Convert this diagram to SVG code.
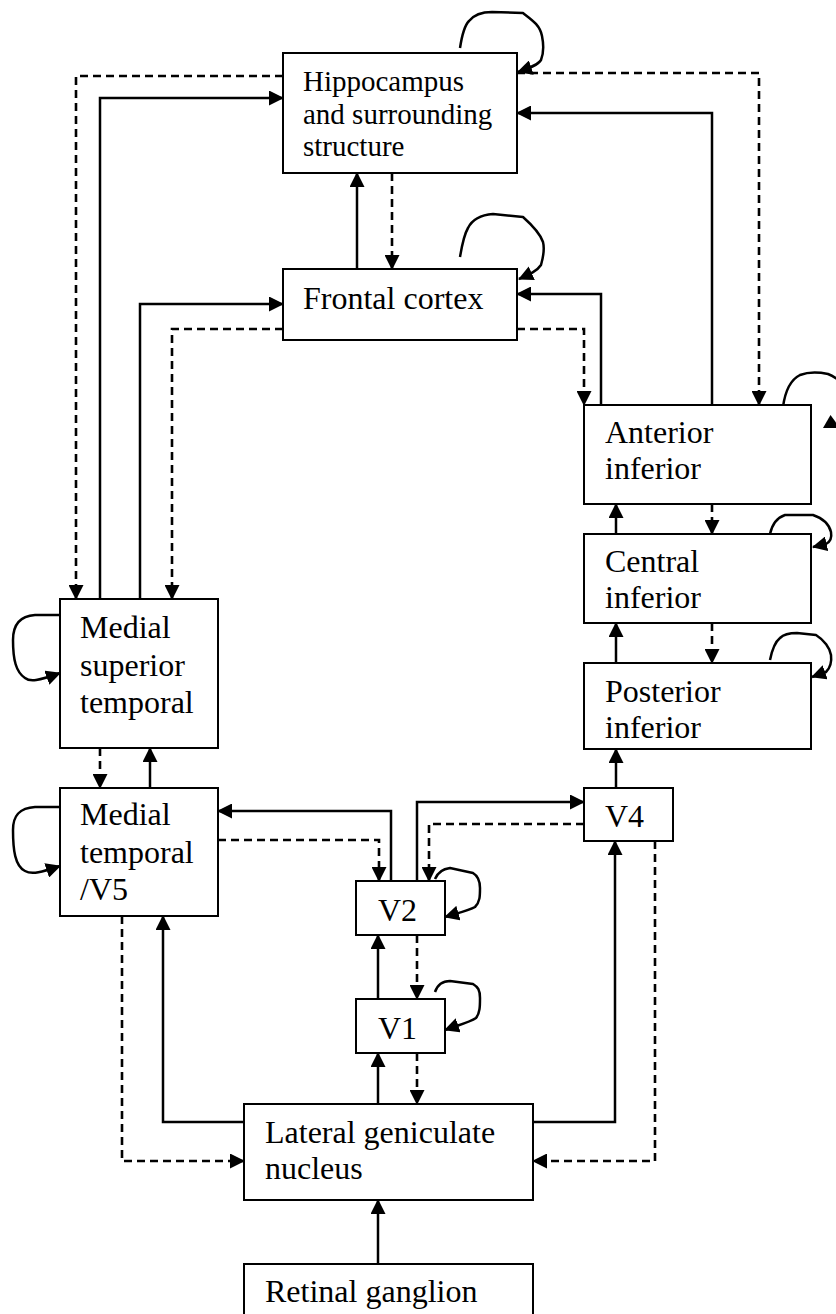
<svg xmlns="http://www.w3.org/2000/svg" width="836" height="1314" viewBox="0 0 836 1314">
<style>
.box{fill:#fff;stroke:#000;stroke-width:2}
.t{font-family:"Liberation Serif","Times New Roman",serif;font-size:32px;fill:#000}
.th{font-family:"Liberation Serif","Times New Roman",serif;font-size:29px;fill:#000}
.s{fill:none;stroke:#000;stroke-width:2.5;marker-end:url(#ah)}
.d{fill:none;stroke:#000;stroke-width:2.6;stroke-dasharray:8 5;marker-end:url(#ah)}
.l{fill:none;stroke:#000;stroke-width:2.5;stroke-linejoin:round;marker-end:url(#ah)}
</style>
<defs>
<marker id="ah" markerUnits="userSpaceOnUse" markerWidth="15" markerHeight="15" refX="14" refY="7.5" orient="auto">
<path d="M0,0 L15,7.5 L0,15 Z" fill="#000" stroke="none"/>
</marker>
</defs>
<rect width="836" height="1314" fill="#fff"/>
<g id="connectors">
<path class="d" d="M283,76 L76,76 L76,599"/>
<path class="s" d="M100,599 L100,98 L283,98"/>
<path class="s" d="M140,599 L140,304 L283,304"/>
<path class="d" d="M283,329 L172,329 L172,599"/>
<path class="d" d="M517,73 L759,73 L759,405"/>
<path class="s" d="M712,405 L712,113 L517,113"/>
<path class="s" d="M601,405 L601,294 L517,294"/>
<path class="d" d="M517,329 L584,329 L584,405"/>
<path class="s" d="M357,269 L357,173"/>
<path class="d" d="M392,173 L392,269"/>
<path class="s" d="M616,534 L616,504"/>
<path class="d" d="M712,504 L712,534"/>
<path class="s" d="M616,663 L616,623"/>
<path class="d" d="M712,623 L712,663"/>
<path class="s" d="M616,788 L616,749"/>
<path class="d" d="M100,748 L100,788"/>
<path class="s" d="M150,788 L150,748"/>
<path class="s" d="M391,881 L391,811 L218,811"/>
<path class="d" d="M218,840 L379,840 L379,881"/>
<path class="s" d="M417,881 L417,802 L584,802"/>
<path class="d" d="M584,824 L429,824 L429,881"/>
<path class="s" d="M378,999 L378,935"/>
<path class="d" d="M417,935 L417,999"/>
<path class="s" d="M378,1104 L378,1053"/>
<path class="d" d="M417,1053 L417,1104"/>
<path class="s" d="M244,1122 L163,1122 L163,916"/>
<path class="d" d="M122,916 L122,1161 L244,1161"/>
<path class="s" d="M533,1122 L615,1122 L615,841"/>
<path class="d" d="M655,841 L655,1161 L533,1161"/>
<path class="s" d="M378,1264 L378,1200"/>
<path class="l" d="M460,48 C462,35 465,25 469,21 C473,16 480,12 492,12 L523,13 C532,20 540,25 542,36 C544,46 543,55 541,60 C538,65 530,68 518,72"/>
<path class="l" d="M460,257 C462,245 465,233 468,228 C472,220 480,215 493,214 L523,217 C532,225 540,233 543,242 C545,250 543,258 541,265 C537,271 530,274 519,279"/>
<path fill="none" stroke="#000" stroke-width="2.5" d="M783,407 C785,392 790,380 800,375 C808,372 818,372 828,374 C836,377 842,382 846,390"/>
<polygon points="823,428 830.5,415 840,428" fill="#000"/>
<path class="l" d="M770,534 C772,525 776,518 785,515 L813,515 C822,518 829,524 831,532 C832,538 830,542 826,544 L813,547"/>
<path class="l" d="M770,660 C772,650 775,642 780,638 C784,634 790,633 797,633 L816,635 C824,640 830,648 831,655 C832,663 830,668 826,672 L812,677"/>
<path class="l" d="M435,879 C437,874 442,869 450,868 L473,873 C478,876 480,880 480,888 C480,896 480,902 475,907 C470,910 462,912 445,917"/>
<path class="l" d="M435,992 C437,986 442,981 450,981 L473,984 C478,987 480,990 480,998 C480,1006 480,1013 476,1018 C470,1022 462,1024 445,1030"/>
<path class="l" d="M60,615 L35,615 C20,616 13,625 13,640 C13,660 16,672 25,678 C30,682 38,681 60,673"/>
<path class="l" d="M60,807 L35,807 C20,808 13,815 13,830 C13,850 15,866 25,871 C32,875 42,872 60,866"/>
</g>
<g id="hippocampus">
<rect class="box" x="283" y="53" width="234" height="120"/>
<text class="th" x="303" y="91">Hippocampus</text>
<text class="th" x="303" y="123.5">and surrounding</text>
<text class="th" x="303" y="156">structure</text>
</g>
<g id="frontal">
<rect class="box" x="283" y="269" width="234" height="71"/>
<text class="t" x="303" y="309">Frontal cortex</text>
</g>
<g id="anterior">
<rect class="box" x="584" y="405" width="227" height="99"/>
<text class="t" x="605" y="443">Anterior</text>
<text class="t" x="605" y="479">inferior</text>
</g>
<g id="central">
<rect class="box" x="584" y="534" width="227" height="89"/>
<text class="t" x="605" y="572">Central</text>
<text class="t" x="605" y="608">inferior</text>
</g>
<g id="posterior">
<rect class="box" x="584" y="663" width="227" height="86"/>
<text class="t" x="605" y="702">Posterior</text>
<text class="t" x="605" y="738">inferior</text>
</g>
<g id="mst">
<rect class="box" x="60" y="599" width="158" height="149"/>
<text class="t" x="80" y="638">Medial</text>
<text class="t" x="80" y="676">superior</text>
<text class="t" x="80" y="713">temporal</text>
</g>
<g id="mt">
<rect class="box" x="60" y="788" width="158" height="128"/>
<text class="t" x="80" y="825">Medial</text>
<text class="t" x="80" y="863">temporal</text>
<text class="t" x="80" y="900">/V5</text>
</g>
<g id="v4">
<rect class="box" x="584" y="788" width="89" height="53"/>
<text class="t" x="605" y="827">V4</text>
</g>
<g id="v2">
<rect class="box" x="356" y="881" width="89" height="54"/>
<text class="t" x="378" y="921">V2</text>
</g>
<g id="v1">
<rect class="box" x="356" y="999" width="89" height="54"/>
<text class="t" x="378" y="1039">V1</text>
</g>
<g id="lgn">
<rect class="box" x="244" y="1104" width="289" height="96"/>
<text class="t" x="265" y="1143">Lateral geniculate</text>
<text class="t" x="265" y="1179">nucleus</text>
</g>
<g id="retinal">
<rect class="box" x="244" y="1264" width="289" height="60"/>
<text class="t" x="265" y="1302">Retinal ganglion</text>
</g>
</svg>
